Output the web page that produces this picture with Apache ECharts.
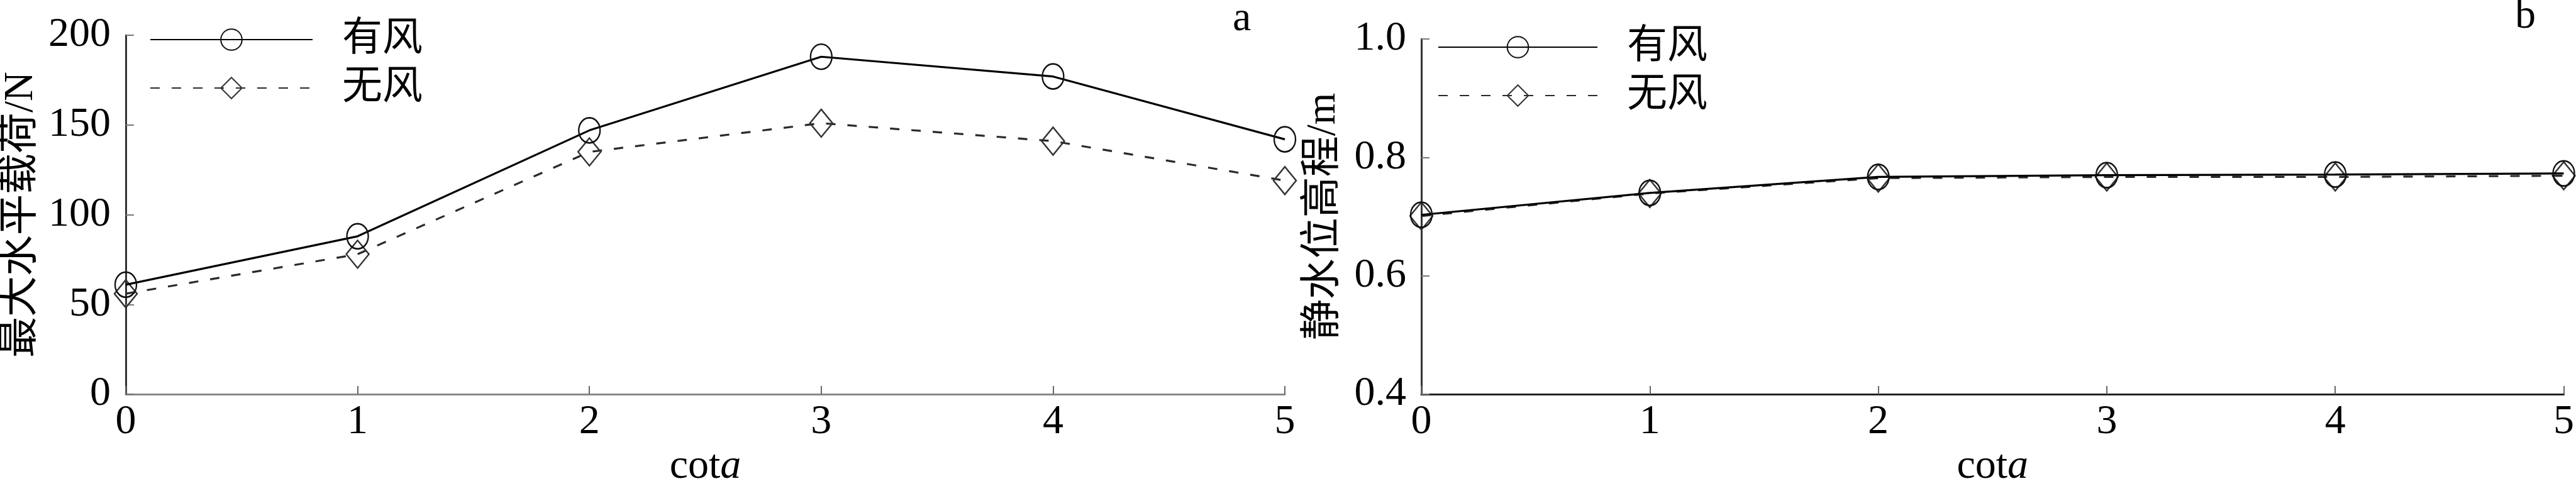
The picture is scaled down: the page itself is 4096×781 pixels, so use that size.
<!DOCTYPE html>
<html>
<head>
<meta charset="utf-8">
<script src="https://cdn.jsdelivr.net/npm/echarts/dist/echarts.min.js"></script>
<style>
	html, body { margin: 0; padding: 0; background: #fff; }
	#chart { width: 4096px; height: 781px; }
</style>
</head>
<body>
<div id="chart"></div>
<script>
	// cot a
	var xValues = [0, 1, 2, 3, 4, 5];
	var seriesNames = ['有风', '无风'];
	// a: 最大水平载荷/N
	var loadWind = [61, 88, 147, 188, 177, 142];
	var loadNoWind = [56, 78, 135, 151, 141, 119];
	// b: 静水位高程/m
	var levelWind = [0.703, 0.740, 0.767, 0.770, 0.771, 0.773];
	var levelNoWind = [0.701, 0.739, 0.765, 0.767, 0.767, 0.769];
	var xTicks = [0, 1, 2, 3, 4, 5];
	var loadTicks = [0, 50, 100, 150, 200];
	var levelTicks = [0.4, 0.6, 0.8, 1.0];

	var FONT = '"Liberation Serif", "Noto Sans CJK SC", serif';

	function pairs(ys) {
		return xValues.map(function(x, i) {
			return [x, ys[i]];
		});
	}

	function xAxis(gridIndex, lineColor) {
		return {
			type: 'value',
			gridIndex: gridIndex,
			min: xTicks[0],
			max: xTicks[xTicks.length - 1],
			interval: 1,
			name: 'cot{i|a}',
			nameLocation: 'middle',
			nameGap: 76,
			nameTextStyle: {
				color: '#000',
				fontFamily: FONT,
				fontSize: 66,
				rich: {
					i: { fontFamily: FONT, fontSize: 66, fontStyle: 'italic', color: '#000' }
				}
			},
			axisLine: { lineStyle: { color: lineColor, width: 3 } },
			axisTick: { inside: true, length: 13, lineStyle: { color: '#666', width: 2 } },
			axisLabel: { color: '#000', fontFamily: FONT, fontSize: 66, margin: 12 },
			splitLine: { show: false }
		};
	}

	function yAxis(gridIndex, ticks, name, gap, digits) {
		return {
			type: 'value',
			gridIndex: gridIndex,
			min: ticks[0],
			max: ticks[ticks.length - 1],
			interval: ticks[1] - ticks[0],
			name: name,
			nameLocation: 'middle',
			nameGap: gap,
			nameTextStyle: { color: '#000', fontFamily: FONT, fontSize: 65 },
			axisLine: { show: true, lineStyle: { color: '#333', width: 3 } },
			axisTick: { inside: true, length: 13, lineStyle: { color: '#777', width: 2 } },
			axisLabel: {
				color: '#000',
				fontFamily: FONT,
				fontSize: 66,
				margin: 24,
				formatter: function(v) {
					return digits ? v.toFixed(digits) : String(v);
				}
			},
			splitLine: { show: false }
		};
	}

	function lineSeries(name, data, idx, dashed) {
		return {
			name: name,
			type: 'line',
			xAxisIndex: idx,
			yAxisIndex: idx,
			data: pairs(data),
			symbol: dashed ? 'diamond' : 'circle',
			symbolSize: dashed ? [36, 44] : [34, 40],
			lineStyle: {
				color: dashed ? '#2a2a2a' : '#000',
				width: 3.2,
				type: dashed ? [15, 19] : 'solid'
			},
			itemStyle: {
				color: 'transparent',
				borderColor: dashed ? '#333' : '#111',
				borderWidth: 2.5
			},
			z: dashed ? 2 : 3
		};
	}

	function legend(left, top, width, names) {
		return {
			orient: 'vertical',
			left: left,
			top: top,
			padding: 0,
			itemWidth: width,
			itemHeight: 42,
			itemGap: 11,
			selectedMode: false,
			textStyle: { color: '#000', fontFamily: FONT, fontSize: 64, lineHeight: 66, padding: [0, 0, 0, 42] },
			data: names
		};
	}

	var option = {
		animation: false,
		backgroundColor: '#fff',
		title: [
			{ text: 'a', left: 1960, top: -2, padding: 0, textStyle: { fontFamily: FONT, fontSize: 66, fontWeight: 'normal', color: '#000' } },
			{ text: 'b', left: 3999, top: -6, padding: 0, textStyle: { fontFamily: FONT, fontSize: 66, fontWeight: 'normal', color: '#000' } }
		],
		grid: [
			{ left: 200, top: 56, width: 1843, height: 574 },
			{ left: 2260, top: 62, width: 1817, height: 567 }
		],
		legend: [
			legend(238, 30, 258, [seriesNames[0], seriesNames[1]]),
			legend(2286, 42, 253, [seriesNames[0] + ' ', seriesNames[1] + ' '])
		],
		xAxis: [xAxis(0, '#888'), xAxis(1, '#222')],
		yAxis: [
			yAxis(0, loadTicks, '最大水平载荷/N', 134, 0),
			yAxis(1, levelTicks, '静水位高程/m', 123, 1)
		],
		series: [
			lineSeries(seriesNames[0], loadWind, 0, false),
			lineSeries(seriesNames[1], loadNoWind, 0, true),
			lineSeries(seriesNames[0] + ' ', levelWind, 1, false),
			lineSeries(seriesNames[1] + ' ', levelNoWind, 1, true)
		]
	};

	var chart = echarts.init(document.getElementById('chart'));
	chart.setOption(option);
</script>
</body>
</html>
